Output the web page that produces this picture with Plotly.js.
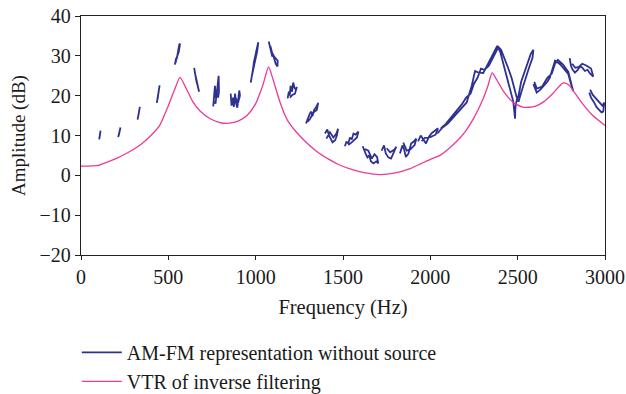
<!DOCTYPE html>
<html>
<head>
<meta charset="utf-8">
<script src="https://cdn.plot.ly/plotly-3.0.1.min.js"></script>
<style>html,body{margin:0;padding:0;background:#fff;}#chart{width:626px;height:394px;}</style>
</head>
<body>
<div id="chart"></div>
<script>
// VTR of inverse filtering (pink)
const vtrFreq = [0,100,150,200,250,300,350,400,450,500,540,567,600,640,680,740,800,850,900,950,1000,1040,1074,1100,1140,1180,1230,1280,1350,1420,1480,1550,1620,1711,1800,1880,1950,2000,2055,2100,2150,2200,2250,2300,2330,2354,2380,2420,2470,2530,2600,2650,2700,2761,2790,2830,2880,2930,3000];
const vtrAmp  = [2.3,2.5,3.3,4.2,5.3,6.5,8,10,12.5,17.5,22,24.6,22,18.5,16.2,14.2,13.2,13.1,13.6,15,18,22.5,27.2,24,18.3,14,11,8.7,6,4,2.6,1.5,0.7,0.2,0.6,1.6,3,4,5,6.5,8.5,11,14.5,19,22.5,25.7,24,21,18.5,17.1,17.3,18.5,20.5,23.2,22.8,20.5,17.5,15,12.5];

// AM-FM representation without source (blue), segments separated by null
const amfmFreq = [
 104,107,109,112,110,106,null,
 213,217,220,226,223,216,null,
 324,328,331,337,334,327,null,
 434,440,443,450,447,438,null,
 537,545,548,552,557,563,567,560,550,541,null,
 648,652,656,660,668,676,672,662,654,650,null,
 757,762,767,772,777,783,788,790,785,778,770,763,null,
 857,862,870,875,882,888,895,900,906,910,898,885,870,null,
 972,980,985,990,995,1003,1010,1015,1008,996,984,976,null,
 1075,1082,1088,1095,1100,1108,1115,1125,1126,1118,1106,1094,1084,null,
 1183,1190,1195,1200,1208,1215,1222,1230,1236,1225,1210,1196,null,
 1288,1300,1310,1318,1325,1335,1345,1358,1350,1330,1312,1296,null,
 1397,1410,1420,1430,1440,1455,1465,1472,1462,1445,1425,1405,null,
 1511,1520,1530,1540,1550,1560,1572,1588,1580,1565,1548,1530,null,
 1613,1622,1630,1640,1650,1660,1675,1690,1702,1695,1680,1665,1645,1625,null,
 1721,1735,1745,1760,1775,1790,1805,1795,1770,1750,null,
 1826,1840,1850,1860,1875,1890,1905,1920,1910,1885,1865,1845,null,
 1930,1945,1960,1975,1990,2005,2020,2044,2030,2000,1970,1950,null,
 2040,2070,2100,2130,2151,2180,2208,2237,2256,2275,2303,2330,2360,2383,2400,2420,2440,2460,2475,2485,2487,2494,2505,2520,2540,2560,2575,2590,2585,2565,2545,2525,2505,2495,2480,2465,2445,2425,2405,2390,2375,2360,2335,2310,2290,2270,2250,2230,2205,2180,2150,2120,2090,2060,null,
 2590,2609,2630,2650,2670,2685,2700,2714,2725,2742,2760,2790,2805,2818,2810,2790,2760,2730,2714,2695,2670,2640,2610,2595,null,
 2798,2805,2815,2828,2845,2857,2870,2885,2900,2915,2933,2920,2895,2870,2850,2830,2812,null,
 2910,2920,2935,2952,2965,2980,2990,2996,2985,2970,2950,2930,2915
];
const amfmAmp = [
 9.0,10.2,9.8,11.2,10.8,9.4,null,
 9.6,10.6,10.8,12,11.5,10.0,null,
 14,15.2,15.4,17.2,16.6,14.6,null,
 18.2,19.8,20.2,22.6,22,19,null,
 27.8,29.5,29.2,30.5,31.5,32.9,33,31,29.8,28.2,null,
 27,25.5,24.8,23.8,22.5,21,21.8,23.5,25.2,26.2,null,
 17.3,20,22.5,19.5,20.4,23,25,21,19.5,21,18,18.5,null,
 20.5,17.5,19.5,17.2,20.5,18,17,19.5,21.3,20,18,19.5,18.2,null,
 23.3,25,26.8,28.5,29.5,31.2,32.6,33.4,31,28.8,26,24.5,null,
 33.6,32,31.2,29.8,30.2,29,28,27.3,28.8,29.2,29.8,30.8,32.5,null,
 19.3,21,20,22.5,21,23.3,22,21.5,22.2,20.5,20.2,19.5,null,
 13,14.5,15.5,16,14.8,16.5,17,18.2,16.4,15.8,14.2,13.4,null,
 10.5,11.5,10,9,8.3,8.8,10,11.7,10.5,9.5,10.8,9.2,null,
 7.3,8.5,8,9.5,9,10.5,10.2,11,9.5,8.8,8.2,7.6,null,
 7.3,6,5.4,4.5,5,3.5,3,3.5,3,4.6,5.3,4.2,6.2,6.6,null,
 6.2,7.5,5.5,4.5,4.2,5.5,7.2,6.5,5.8,6.8,null,
 5.5,7.5,6.5,4.6,5.5,8,8.5,9.2,7.6,6.5,6.2,8.2,null,
 8.5,10,9,8,9.5,10.5,11,11.8,10.2,9.6,9.4,8.6,null,
 10.5,12,13,14.5,15.4,17,18.3,22.5,26.2,25.8,25.7,28,30.4,32.5,31,27.5,24,21,18.5,14.2,17,18.8,20,23.5,26,28.5,30.5,31.5,29.5,27,24.5,21.5,18.5,19.5,22,24.5,27,29.5,31.5,32.2,31,29.5,27.5,26.5,26.8,24.5,23,20.5,19.5,17.8,16.2,14.5,13,11.8,null,
 22.9,20.8,21.5,22.5,23.5,24.6,26.5,28.8,28.5,27.9,27,25.4,23,21.2,22.5,26,27.8,29,28,25.5,24.5,22.3,21.8,23.5,null,
 29.4,27.5,26.5,25.8,26.5,27.4,27,26.2,26.5,25.5,24.8,26.8,27.5,28,27.2,27,28,null,
 20.8,19.5,18.5,17.1,16.5,15.8,16,18.3,17.5,18.2,19,20.2,21.5
];

const serif = "Liberation Serif, Times New Roman, serif";

const traces = [
  {x: amfmFreq, y: amfmAmp, type: 'scatter', mode: 'lines', name: 'AM-FM representation without source',
   line: {color: '#2e3192', width: 1.8}, connectgaps: false},
  {x: vtrFreq, y: vtrAmp, type: 'scatter', mode: 'lines', name: 'VTR of inverse filtering',
   line: {color: '#ec3a96', width: 1.3, shape: 'spline', smoothing: 0.6}}
];

const layout = {
  width: 626, height: 394,
  margin: {l: 81, r: 21, t: 16, b: 139},
  paper_bgcolor: '#fff', plot_bgcolor: '#fff',
  font: {family: serif, color: '#1a1a1a', size: 18},
  showlegend: true,
  legend: {x: -0.008, xref: 'paper', y: 0.155, yref: 'container', xanchor: 'left', yanchor: 'top', orientation: 'v',
           font: {family: serif, size: 20, color: '#1a1a1a'}, tracegroupgap: 0, itemwidth: 40,
           bgcolor: 'rgba(0,0,0,0)'},
  xaxis: {range: [0, 3000], tickvals: [0,500,1000,1500,2000,2500,3000], showgrid: false, zeroline: false,
          showline: true, linecolor: '#222', linewidth: 1.2, mirror: true,
          ticks: 'outside', ticklen: 4, tickcolor: '#222',
          tickfont: {family: serif, size: 20},
          title: {text: 'Frequency (Hz)', font: {family: serif, size: 20.5}, standoff: 12}},
  yaxis: {range: [-20, 40], tickvals: [-20,-10,0,10,20,30,40], showgrid: false, zeroline: false,
          showline: true, linecolor: '#222', linewidth: 1.2, mirror: true,
          ticks: 'outside', ticklen: 5, tickcolor: '#222',
          tickfont: {family: serif, size: 20},
          title: {text: 'Amplitude (dB)', font: {family: serif, size: 19}, standoff: 8}}
};

Plotly.newPlot('chart', traces, layout, {displayModeBar: false, staticPlot: true});
</script>
</body>
</html>
